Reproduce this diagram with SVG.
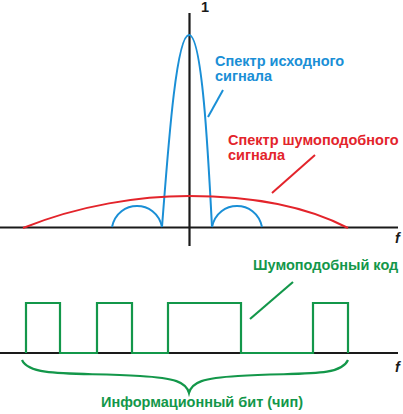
<svg xmlns="http://www.w3.org/2000/svg" width="403" height="414" viewBox="0 0 403 414">
<style>
text{font-family:"Liberation Sans",Arial,sans-serif;font-weight:bold;font-size:14.5px}
.ax{stroke:#1a1a1a;stroke-width:2.2;fill:none}
.bl{stroke:#1a8fd6;stroke-width:2;fill:none}
.rd{stroke:#e3242b;stroke-width:2;fill:none}
.gr{stroke:#13974a;stroke-width:2.2;fill:none}
.tb{fill:#1a8fd6}.tr{fill:#e3242b}.tg{fill:#13974a}.tk{fill:#1a1a1a}
</style>
<rect width="403" height="414" fill="#ffffff"/>
<g id="axes">
<path class="ax" d="M189.5,13 V246"/>
<path class="ax" d="M0,227.5 H398"/>
<path class="ax" d="M0,353 H398"/>
<text class="tk" x="201" y="12" font-size="13">1</text>
<text class="tk" x="395" y="243" font-style="italic" font-size="13">f</text>
<text class="tk" x="395" y="372" font-style="italic" font-size="13">f</text>
</g>
<g id="source-spectrum">
<path class="bl" d="M162,227 C168,150 176,35 189,35 C202,35 208,150 212,227"/>
<path class="bl" d="M112,227 C118,199 156,199 162,227"/>
<path class="bl" d="M212,227 C218,199 256,199 262,227"/>
<text class="tb" x="215" y="66" font-size="13.5">Спектр исходного</text>
<text class="tb" x="215" y="81" font-size="13.5">сигнала</text>
</g>
<g id="noise-spectrum">
<path class="rd" d="M23,228 C80,205 140,196 189,196 C240,196 300,203 348,228"/>
<text class="tr" x="228" y="145" font-size="15.2">Спектр шумоподобного</text>
<text class="tr" x="228" y="160" font-size="15.2">сигнала</text>
</g>
<g id="noise-code">
<path class="gr" d="M26,353 V303 H60 V353 H97 V303 H132 V353 H168 V303 H241 V353 H313 V303 H348 V353"/>
<text class="tg" x="253" y="270">Шумоподобный код</text>
</g>
<g id="bit-brace">
<path class="gr" d="M22,360 C30,378 80,372 140,376 C175,378 186,382 189,393 C192,382 203,378 238,376 C298,372 340,378 348,360"/>
<text class="tg" x="202" y="407" text-anchor="middle" font-size="15.5">Информационный бит (чип)</text>
</g>
<g id="connectors">
<path class="bl" d="M223,90 L208,117"/>
<path class="rd" d="M315,155 L272,193"/>
<path class="gr" d="M293,282 L250,319"/>
</g>
</svg>
